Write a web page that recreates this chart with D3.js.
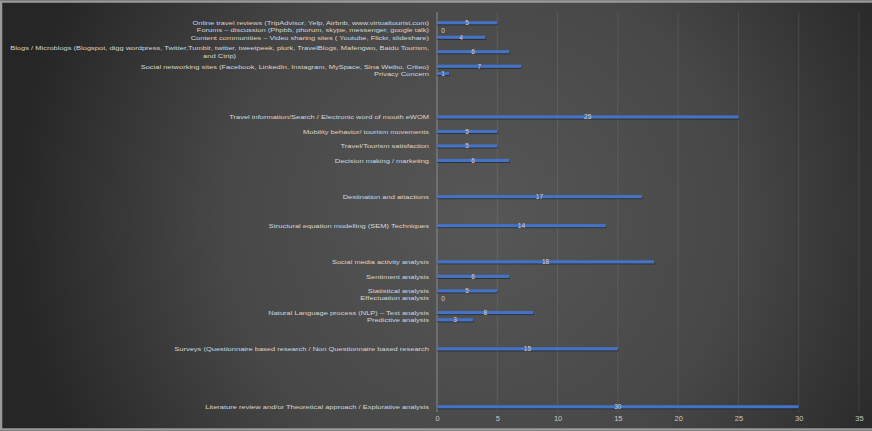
<!DOCTYPE html>
<html><head><meta charset="utf-8">
<script src="https://cdn.jsdelivr.net/npm/d3@7/dist/d3.min.js"></script>
<style>html,body{margin:0;padding:0;background:#2a2a2a;}svg{display:block;}</style>
</head><body>
<script>
// Categories top to bottom ("" = empty row in the source sheet)
const categories = [
  "Online travel reviews (TripAdvisor, Yelp, Airbnb, www.virtualtourist.com)",
  "Forums – discussion (Phpbb, phorum, skype, messenger, google talk)",
  "Content communities – Video sharing sites ( Youtube, Flickr, slideshare)",
  "",
  "Blogs / Microblogs (Blogspot, digg wordpress, Twitter,Tumblr, twitter, tweetpeek, plurk, TravelBlogs, Mafengwo, Baidu Tourism,\nand Ctrip)",
  "",
  "Social networking sites (Facebook, LinkedIn, Instagram, MySpace, Sina Weibo, Criteo)",
  "Privacy Concern",
  "", "", "", "", "",
  "Travel information/Search / Electronic word of mouth eWOM",
  "",
  "Mobility behavior/ tourism movements",
  "",
  "Travel/Tourism satisfaction",
  "",
  "Decision making / marketing",
  "", "", "", "",
  "Destination and attactions",
  "", "", "",
  "Structural equation modelling (SEM) Techniques",
  "", "", "", "",
  "Social media activity analysis",
  "",
  "Sentiment analysis",
  "",
  "Statistical analysis",
  "Effectuation analysis",
  "",
  "Natural Language process (NLP) – Text analysis",
  "Predictive analysis",
  "", "", "",
  "Surveys (Questionnaire based research / Non Questionnaire based research",
  "", "", "", "", "", "", "",
  "Literature review and/or Theoretical approach / Explorative analysis"
];
const values = [
  5, 0, 4, null, 6, null, 7, 1,
  null, null, null, null, null,
  25, null, 5, null, 5, null, 6,
  null, null, null, null,
  17, null, null, null,
  14, null, null, null, null,
  18, null, 6, null, 5, 0, null, 8, 3,
  null, null, null,
  15, null, null, null, null, null, null, null,
  30
];
const xTicks = [0, 5, 10, 15, 20, 25, 30, 35];

const W = 872, H = 431;
const FONT = "Liberation Sans, Arial, sans-serif";
const svg = d3.select("body").append("svg").attr("width", W).attr("height", H);
const defs = svg.append("defs");
const grad = defs.append("radialGradient").attr("id", "bg")
  .attr("gradientUnits", "userSpaceOnUse")
  .attr("cx", 480).attr("cy", 220).attr("r", 470);
grad.append("stop").attr("offset", "0%").attr("stop-color", "#575757");
grad.append("stop").attr("offset", "55%").attr("stop-color", "#474747");
grad.append("stop").attr("offset", "100%").attr("stop-color", "#262626");

svg.append("rect").attr("x", 0).attr("y", 0).attr("width", W).attr("height", H).attr("fill", "url(#bg)");
svg.append("rect").attr("x", 1).attr("y", 1.5).attr("width", W + 2).attr("height", H - 3)
  .attr("fill", "none").attr("stroke", "#9a9a9a").attr("stroke-width", 2.5);

const x = d3.scaleLinear().domain([0, 35]).range([437, 859]);
const idx = d3.range(categories.length);
const step = (407 - 23) / (categories.length - 1);
const y = d3.scaleBand().domain(idx).range([23 - step / 2, 407 + step / 2]).padding(0);

// gridlines
const g = svg.append("g");
g.selectAll("line.grid").data(xTicks.slice(1)).join("line")
  .attr("x1", d => x(d)).attr("x2", d => x(d))
  .attr("y1", 12).attr("y2", 412)
  .attr("stroke", "rgba(255,255,255,0.09)").attr("stroke-width", 1);
// axis line at 0
g.append("line").attr("x1", x(0)).attr("x2", x(0)).attr("y1", 12).attr("y2", 412)
  .attr("stroke", "#8c8c8c").attr("stroke-width", 1);

// x axis labels
const xAxis = d3.axisBottom(x).tickValues(xTicks).tickSize(0).tickPadding(0);
const ax = svg.append("g").attr("transform", "translate(0,416)").call(xAxis);
ax.select(".domain").remove();
ax.selectAll("text").attr("fill", "#c8c8c8").attr("font-size", 7.5)
  .attr("font-family", FONT);

const rows = idx.filter(i => categories[i] !== "");
const cy = i => y(i) + y.bandwidth() / 2;

// bars: shadow + bar
svg.selectAll("rect.shadow").data(rows.filter(i => values[i] > 0)).join("rect")
  .attr("x", x(0)).attr("y", i => cy(i) - 0.3)
  .attr("width", i => x(values[i]) - x(0) + 0.5).attr("height", 2.6)
  .attr("fill", "rgba(0,0,0,0.45)");
svg.selectAll("rect.bar").data(rows.filter(i => values[i] > 0)).join("rect")
  .attr("x", x(0)).attr("y", i => cy(i) - 1.8)
  .attr("width", i => x(values[i]) - x(0)).attr("height", 3.2)
  .attr("fill", "#4472c4");

// value labels
svg.selectAll("text.val").data(rows).join("text")
  .attr("x", i => values[i] > 0 ? x(values[i] / 2) : x(0) + 6)
  .attr("y", i => cy(i))
  .attr("dy", "0.35em").attr("text-anchor", "middle")
  .attr("font-size", 6.5).attr("font-family", FONT)
  .attr("fill", "#d4d4d4")
  .text(i => values[i]);

// category labels: glyphs drawn at 6.2px, stretched to the width of the 7.5px text
const measure = svg.append("text").attr("font-size", 7.5).attr("font-family", FONT);
const widthAt = s => { measure.text(s); return measure.node().getComputedTextLength(); };
const lab = svg.selectAll("text.cat").data(rows).join("text")
  .attr("font-size", 6.2).attr("font-family", FONT)
  .attr("fill", "#d6d6d6");
lab.each(function(i) {
  const lines = categories[i].split("\n");
  const t = d3.select(this);
  const lh = 8.5;
  const y0 = cy(i) - (lines.length - 1) * lh / 2;
  const w0 = widthAt(lines[0]);
  t.append("tspan").attr("x", 429).attr("y", y0).attr("dy", "0.35em")
    .attr("text-anchor", "end")
    .attr("textLength", w0).attr("lengthAdjust", "spacingAndGlyphs")
    .text(lines[0]);
  lines.slice(1).forEach((s, k) => {
    t.append("tspan").attr("x", 429 - w0 / 2).attr("y", y0 + (k + 1) * lh).attr("dy", "0.35em")
      .attr("text-anchor", "middle")
      .attr("textLength", widthAt(s)).attr("lengthAdjust", "spacingAndGlyphs")
      .text(s);
  });
});
measure.remove();
</script>
</body></html>
